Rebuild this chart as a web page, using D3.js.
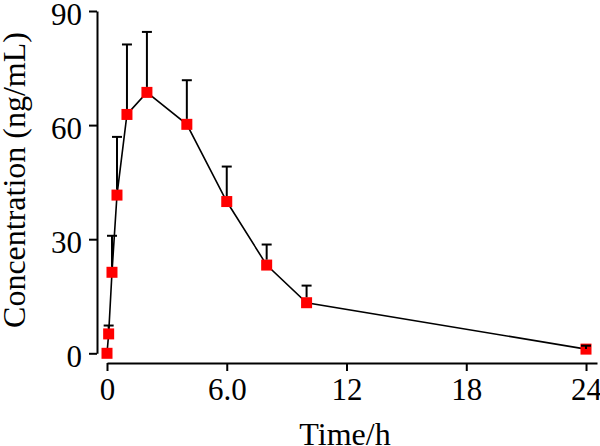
<!DOCTYPE html>
<html>
<head>
<meta charset="utf-8">
<script src="https://cdn.jsdelivr.net/npm/d3@7"></script>
<style>
  body { margin: 0; background: #fff; }
  svg { display: block; }
  text { font-family: "Liberation Serif", "Times New Roman", serif; fill: #000; }
</style>
</head>
<body>
<div id="chart-container"></div>
<script>
// Data
const timeH = [0, 0.083, 0.25, 0.5, 1, 2, 4, 6, 8, 10, 24];
const concMean = [0, 5.1, 21.3, 41.6, 62.8, 68.6, 60.2, 39.9, 23.2, 13.3, 1.1];
const concSD = [0, 2.2, 9.6, 15.3, 18.4, 15.9, 11.6, 9.2, 5.4, 4.5, 0.9];
const xTicks = [0, 6, 12, 18, 24];
const xTickLabels = ["0", "6.0", "12", "18", "24"];
const yTicks = [0, 30, 60, 90];

const width = 600, height = 446;
const fontSize = 31;
const markerSize = 11;
const capWidth = 10;

const x = d3.scaleLinear().domain([0, 24]).range([107, 586]);
const y = d3.scaleLinear().domain([0, 90]).range([353.3, 11]);

const svg = d3.select("#chart-container")
  .append("svg")
    .attr("width", width)
    .attr("height", height);

const data = timeH.map((t, i) => ({ t: t, c: concMean[i], sd: concSD[i] }));

//y axis, offset to the left of the plot
svg.append("g")
  .attr("transform", `translate(97,0)`)
  .call(d3.axisLeft(y).tickValues(yTicks).tickSize(8).tickPadding(7).tickSizeOuter(0))
  .call(g => g.selectAll("path, line").attr("stroke", "#000").attr("stroke-width", 2))
  .call(g => g.selectAll("text").style("font-size", fontSize + "px")
      .style("font-family", "Liberation Serif").attr("fill", "#000")
      .attr("dy", "0.42em"));

//x axis, offset below the plot, line runs a bit past 24
svg.append("g")
  .attr("transform", `translate(0,363)`)
  .call(d3.axisBottom(x.copy().domain([0, 24.55]).range([107, 597]))
      .tickValues(xTicks)
      .tickFormat((d, i) => xTickLabels[i])
      .tickSize(8).tickPadding(7).tickSizeOuter(0))
  .call(g => g.selectAll("path, line").attr("stroke", "#000").attr("stroke-width", 2))
  .call(g => g.selectAll("text").style("font-size", fontSize + "px")
      .style("font-family", "Liberation Serif").attr("fill", "#000"));

//axis titles
svg.append("text")
  .attr("transform", `translate(25,180) rotate(-90)`)
  .attr("text-anchor", "middle")
  .style("font-size", "32px")
  .text("Concentration (ng/mL)");

svg.append("text")
  .attr("x", 345)
  .attr("y", 445)
  .attr("text-anchor", "middle")
  .style("font-size", "32px")
  .text("Time/h");

//connecting line
svg.append("path")
  .datum(data)
  .attr("fill", "none")
  .attr("stroke", "#000")
  .attr("stroke-width", 1.6)
  .attr("d", d3.line().x(d => x(d.t)).y(d => y(d.c)));

//markers
svg.append("g")
  .selectAll("rect")
  .data(data)
  .join("rect")
  .attr("x", d => x(d.t) - markerSize / 2)
  .attr("y", d => y(d.c) - markerSize / 2)
  .attr("width", markerSize)
  .attr("height", markerSize)
  .attr("fill", "#ff0000");

//upper error bars, starting at the marker edge
const bars = svg.append("g")
  .attr("stroke", "#000")
  .attr("stroke-width", 2)
  .selectAll("g")
  .data(data.filter(d => d.sd > 0))
  .join("g");

bars.append("line")
  .attr("x1", d => x(d.t))
  .attr("x2", d => x(d.t))
  .attr("y1", d => {
    const edge = y(d.c) - markerSize / 2;
    return y(d.c + d.sd) < edge ? edge : y(d.c);
  })
  .attr("y2", d => y(d.c + d.sd));

bars.append("line")
  .attr("x1", d => x(d.t) - capWidth / 2)
  .attr("x2", d => x(d.t) + capWidth / 2)
  .attr("y1", d => y(d.c + d.sd))
  .attr("y2", d => y(d.c + d.sd));
</script>
</body>
</html>
